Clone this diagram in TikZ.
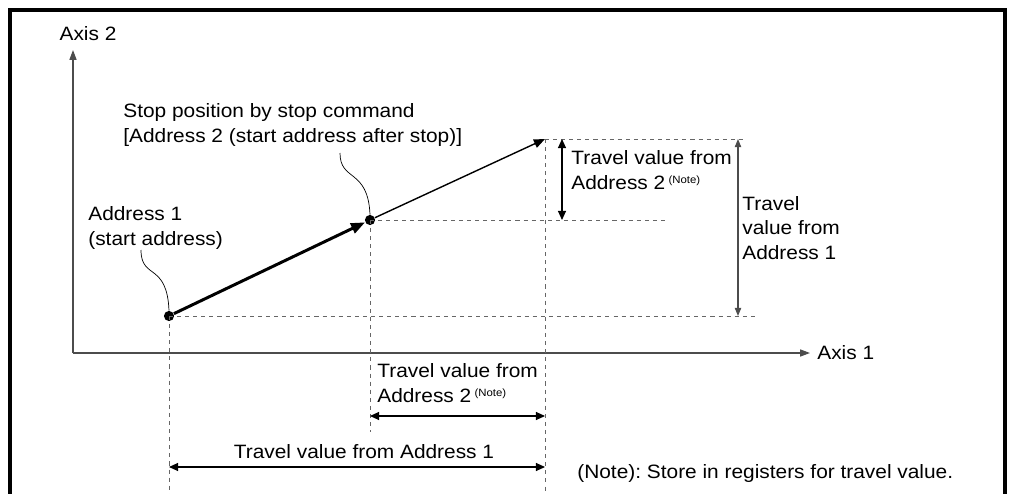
\documentclass[tikz,border=0pt]{standalone}
\usepackage{fontspec}
\setmainfont{Liberation Sans}[FakeStretch=1.08]
\usetikzlibrary{arrows.meta,positioning,calc}
\frenchspacing
\newcommand{\notemark}{\,\raisebox{0.55ex}{\fontsize{6}{6}\selectfont (Note)}}

\begin{document}
\begin{tikzpicture}[x=0.02cm,y=-0.02cm,
every node/.style={font=\fontsize{11}{13.8}\selectfont},
dot/.style={circle,fill=black,inner sep=0pt,minimum size=5.8pt},
axis/.style={draw=black!70,line width=0.7pt,-{Triangle[length=5.6pt,width=4pt]}},
guide/.style={draw=black!60,line width=0.5pt,dash pattern=on 2.3pt off 2.3pt},
dim/.style={line width=0.6pt,{Triangle[length=5.2pt,width=4.6pt]}-{Triangle[length=5.2pt,width=4.6pt]}},
leader/.style={line width=0.4pt},
lbl/.style={anchor=west,align=left,inner sep=0pt}]
\useasboundingbox (0,0) rectangle (1009,494);
% frame
\draw[line width=2.3pt] (10,494) -- (10,10) -- (1005,10) -- (1005,494);
% axes
\coordinate (O) at (73,353);
\coordinate (Y) at (73,50);
\coordinate (X) at (810,353);
\draw[axis] (O) -- (Y);
\draw[axis] (O) -- (X);
\node (ax2) at (88,34) {Axis 2};
\node[lbl] (ax1) at (817,353) {Axis 1};
% points
\node[dot] (A1) at (169,316) {};
\node[dot] (A2) at (370,220) {};
\coordinate (E) at (545,139);
\draw[line width=1.7pt,-{Triangle[length=8pt,width=6pt]}] (A1) -- (A2);
\draw[line width=0.8pt,-{Triangle[length=6.3pt,width=5pt]}] (A2) -- (E);
% guide lines
\draw[guide] (A1.center) -- (755,316);
\draw[guide] (A2.center) -- (667,220);
\draw[guide] (E) -- (745,139);
\draw[guide] (A1.center) -- (169,494);
\draw[guide] (A2.center) -- (370,432);
\draw[guide] (E) -- (545,494);
% dimensions
\coordinate (d2) at (562,0);
\coordinate (d1) at (738,0);
\coordinate (h2) at (0,416);
\coordinate (h1) at (0,467);
\draw[dim] (E -| d2) -- (A2 -| d2);
\draw[dim,draw=black!70,{Triangle[length=4.6pt,width=3.6pt]}-{Triangle[length=4.6pt,width=3.6pt]}] (E -| d1) -- (A1 -| d1);
\draw[dim] (A2 |- h2) -- (E |- h2);
\draw[dim] (A1 |- h1) -- (E |- h1);
% labels
\node[lbl] (stop) at (123,125) {Stop position by stop command\\{[}Address 2 (start address after stop)]};
\node[lbl] (start) at (88,228) {Address 1\\(start address)};
\node[lbl] (tv2r) at (571,170) {Travel value from\\Address 2\notemark};
\node[lbl] (tv1r) at (742,228) {Travel\\value from\\Address 1};
\node[lbl] (tv2b) at (377,383) {Travel value from\\Address 2\notemark};
\node (tv1b) at (364,452) {Travel value from Address 1};
\node[lbl] (note) at (577,473) {(Note): Store in registers for travel value.};
% leaders
\coordinate (s2) at (340,153);
\coordinate (s1) at (141,250);
\draw[leader] (s2) .. controls (340,182) and (368,168) .. (A2.north);
\draw[leader] (s1) .. controls (141,280) and (167,262) .. (A1.north);
\end{tikzpicture}
\end{document}
